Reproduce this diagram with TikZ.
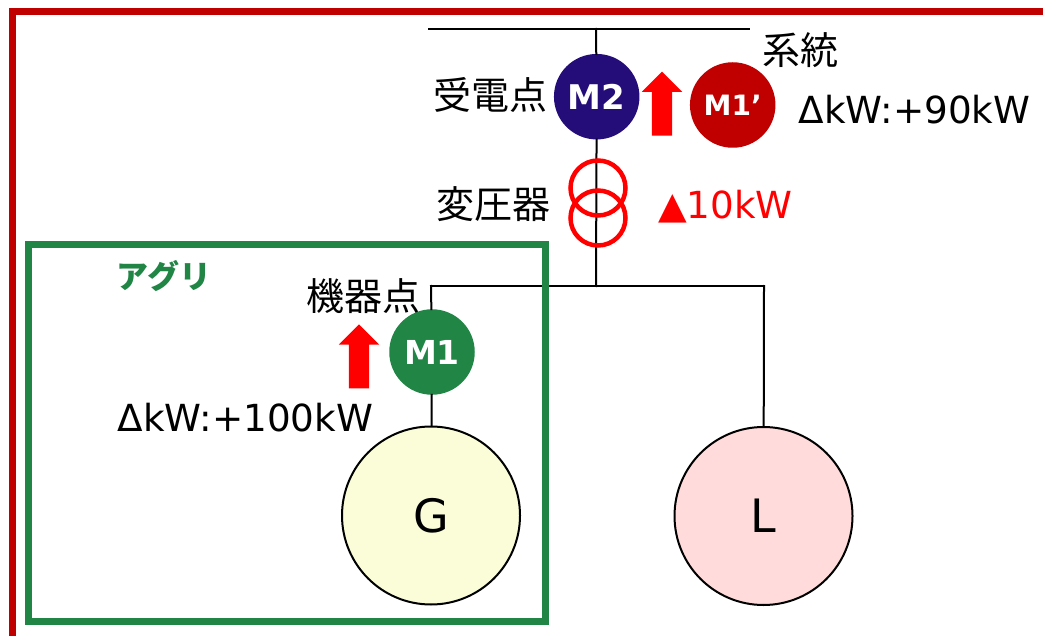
\documentclass[tikz,border=0pt]{standalone}
\usepackage{fontspec}
\setmainfont{DejaVu Sans}
\newfontfamily\jpfont{Noto Sans CJK JP}
\usetikzlibrary{shapes.arrows}
\definecolor{framered}{RGB}{192, 0, 0}
\definecolor{agrigreen}{RGB}{33, 133, 70}
\definecolor{mnavy}{RGB}{36, 13, 120}
\definecolor{gyellow}{RGB}{250, 253, 215}
\definecolor{lpink}{RGB}{255, 219, 219}
\tikzset{
	meter/.style = {circle, inner sep = 0pt, minimum size = 85.5pt, text = white, font = \fontsize{34}{36}\selectfont\bfseries},
	machine/.style = {circle, draw, line width = 2pt, inner sep = 0pt, minimum size = 178pt, font = \fontsize{46}{48}\selectfont},
	coil/.style = {circle, draw = red, line width = 4.5pt, inner sep = 0pt, minimum size = 55pt},
	jplabel/.style = {inner sep = 0pt, font = \fontsize{38}{40}\selectfont\jpfont},
	kwlabel/.style = {inner sep = 0pt, font = \fontsize{37.3}{40}\selectfont},
	uparrow/.style = {single arrow, fill = red, inner sep = 10pt, shape border rotate = 90, minimum width = 40pt, minimum height = 64pt, single arrow head extend = 10pt, single arrow head indent = 0pt},
	wire/.style = {line width = 2pt, line cap = rect}
}
\begin{document}
\begin{tikzpicture}[x = 1pt, y = -1pt]
	\useasboundingbox (0,0) rectangle (1043,636);
	\clip (0,0) rectangle (1043,636);
	\node (m2) at (596.7,96.7) [meter, fill = mnavy] {M2};
	\node (m1p) at (732.7,105) [meter, fill = framered, font = \fontsize{28}{30}\selectfont\bfseries] {M1’};
	\node (m1) at (432,352) [meter, fill = agrigreen, font = \fontsize{33}{36}\selectfont\bfseries] {M1};
	\node (g) at (431,515.5) [machine, fill = gyellow] {\raisebox{-6pt}{G}};
	\node (l) at (763.5,516) [machine, fill = lpink] {\raisebox{-6pt}{L}};
	\coordinate (busl) at (429,29);
	\coordinate (busr) at (749,29);
	\coordinate (bust) at (596,29);
	\coordinate (junc) at (596,286);
	\coordinate (legg) at (431,286);
	\coordinate (legl) at (764,286);
	\draw[wire] (busl) -- (busr);
	\draw[wire] (bust) -- (m2);
	\draw[wire] (m2) -- (junc);
	\draw[wire] (legg) -- (legl);
	\draw[wire] (legg) -- (m1);
	\draw[wire] (m1) -- (g);
	\draw[wire] (legl) -- (l);
	\node (t1) at (598,188) [coil] {};
	\node (t2) at (598,218) [coil] {};
	\node (a2) at (662,108.8) [uparrow] {};
	\node (a1) at (359,361.5) [uparrow] {};
	\node (frame) at (540,325.5) [draw = framered, line width = 7pt, minimum width = 1055pt, minimum height = 627pt, inner sep = 0pt] {};
	\node (agri) at (287,433) [draw = agrigreen, line width = 7pt, minimum width = 517pt, minimum height = 377pt, inner sep = 0pt] {};
	\node (agrilabel) at (164,276) [jplabel, text = agrigreen, font = \fontsize{32}{33}\selectfont\jpfont\bfseries] {アグリ};
	\node (m2label) at (490,95) [jplabel] {受電点};
	\node (m1label) at (363.5,296) [jplabel] {機器点};
	\node (tlabel) at (493,204) [jplabel] {変圧器};
	\node (grid) at (800.5,50) [jplabel] {系統};
	\node (dk2) at (914.5,110) [kwlabel] {ΔkW:+90kW};
	\node (loss) at (725.5,207) [kwlabel, text = red] {▲10kW};
	\node (dk1) at (245.5,418) [kwlabel] {ΔkW:+100kW};
\end{tikzpicture}
\end{document}
